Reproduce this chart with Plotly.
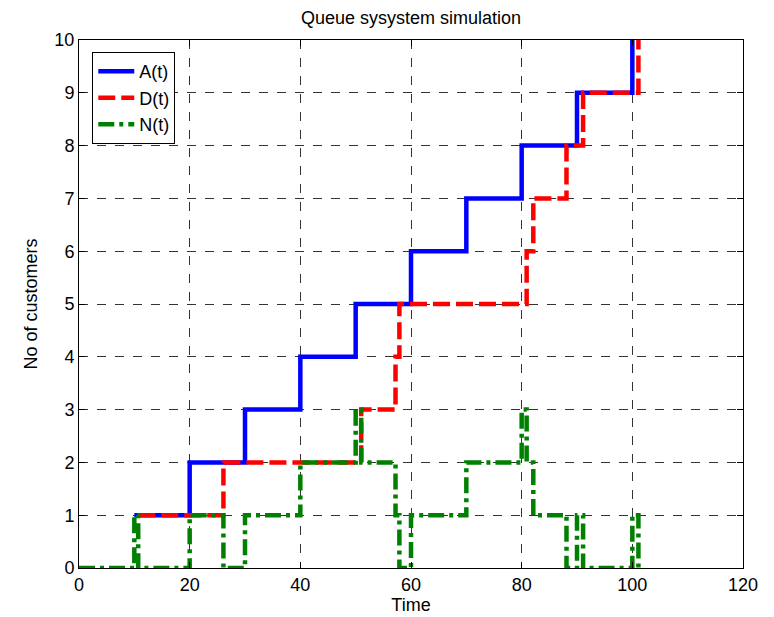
import plotly.graph_objects as go

# Arrival process A(t)
A_times = [10, 20, 30, 40, 50, 60, 70, 80, 90, 100]
A_counts = [1, 2, 3, 4, 5, 6, 7, 8, 9, 10]

# Departure process D(t)
D_times = [10.7, 26.1, 51.0, 57.2, 57.9, 80.9, 82.1, 88.1, 91.1, 101.1]
D_counts = [1, 2, 3, 4, 5, 6, 7, 8, 9, 10]

# Number in system N(t)
N_times = [0, 10, 10.7, 20, 26.1, 30, 40, 50, 51.0, 57.2, 57.9, 60, 70, 80,
           80.9, 82.1, 88.1, 90, 91.1, 100, 101.1]
N_counts = [0, 1, 0, 1, 0, 1, 2, 3, 2, 1, 0, 1, 2, 3, 2, 1, 0, 1, 0, 1, 0]

x_ticks = [0, 20, 40, 60, 80, 100, 120]
y_ticks = [0, 1, 2, 3, 4, 5, 6, 7, 8, 9, 10]

FONT = "Liberation Sans, Arial, sans-serif"
FS = 18

fig = go.Figure()
fig.add_trace(go.Scatter(x=A_times, y=A_counts, mode="lines", name="A(t)",
                         line=dict(color="#0000FF", width=4.5, shape="hv")))
fig.add_trace(go.Scatter(x=D_times, y=D_counts, mode="lines", name="D(t)",
                         line=dict(color="#FF0000", width=4.5, shape="hv",
                                   dash="17px,6px")))
fig.add_trace(go.Scatter(x=N_times, y=N_counts, mode="lines", name="N(t)",
                         line=dict(color="#008000", width=4.5, shape="hv",
                                   dash="16px,5px,4px,5px")))

axis_common = dict(
    showline=True, linecolor="black", linewidth=1, mirror="ticks",
    ticks="inside", ticklen=6, tickcolor="black",
    showgrid=True, gridcolor="rgba(0,0,0,0.8)", gridwidth=1, griddash="dash",
    zeroline=False, automargin=False,
    tickfont=dict(family=FONT, size=FS, color="black"),
)

# The page body has an 8px default margin, so the figure is sized to fit.
fig.update_layout(
    width=766, height=609,
    margin=dict(l=71, r=31, t=32, b=49),
    paper_bgcolor="white", plot_bgcolor="white",
    title=dict(text="Queue sysystem simulation", x=0.5, xref="paper",
               xanchor="center", yref="container", y=0.984, yanchor="middle",
               font=dict(family=FONT, size=FS, color="black")),
    xaxis=dict(range=[0, 120], tickvals=x_ticks,
               title=dict(text="Time", standoff=2,
                          font=dict(family=FONT, size=FS, color="black")),
               **axis_common),
    yaxis=dict(range=[0, 10], tickvals=y_ticks,
               title=dict(text="No of customers", standoff=12,
                          font=dict(family=FONT, size=FS, color="black")),
               **axis_common),
    legend=dict(x=0.02, y=0.977, xanchor="left", yanchor="top",
                bgcolor="white", bordercolor="black", borderwidth=1,
                font=dict(family=FONT, size=FS, color="black"),
                itemwidth=36, tracegroupgap=0),
    showlegend=True,
)

fig.write_html("out.html")
